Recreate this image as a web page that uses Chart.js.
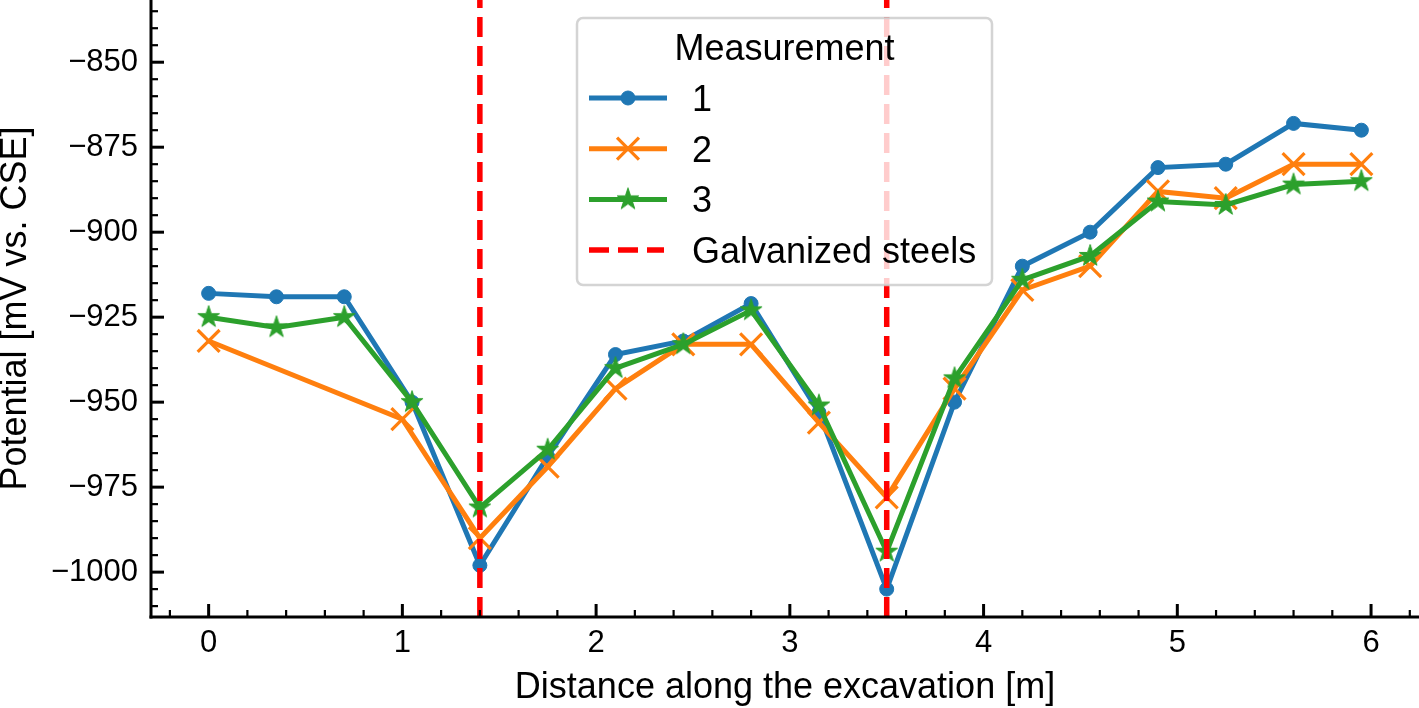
<!DOCTYPE html>
<html>
<head>
<meta charset="utf-8">
<script src="https://cdn.jsdelivr.net/npm/chart.js@4.4.1/dist/chart.umd.min.js"></script>
<style>
  html, body { margin: 0; padding: 0; background: #ffffff; overflow: hidden; }
  canvas { display: block; }
</style>
</head>
<body>
<canvas id="chart" width="1419" height="708"></canvas>
<script>
// ---------------- data ----------------
const xPositions = [0, 0.35, 0.7, 1.05, 1.4, 1.75, 2.1, 2.45, 2.8, 3.15, 3.5, 3.85, 4.2, 4.55, 4.9, 5.25, 5.6, 5.95];
const measurement1 = [-918, -919, -919, -950, -998, -966, -936, -932, -921, -953, -1005, -950, -910, -900, -881, -880, -868, -870];
const measurement2X = [0, 1.0, 1.4, 1.75, 2.1, 2.45, 2.8, 3.15, 3.5, 3.85, 4.2, 4.55, 4.9, 5.25, 5.6, 5.95];
const measurement2 = [-932, -955, -990, -969, -946, -933, -933, -956, -978, -946, -917, -910, -888, -890, -880, -880];
const measurement3 = [-925, -928, -925, -950, -981, -964, -940, -933, -923, -951, -994, -943, -914, -907, -891, -892, -886, -885];
const galvanizedX = [1.4, 3.5];

const seriesLabels = ['1', '2', '3'];
const legendTitle = 'Measurement';
const galvanizedLabel = 'Galvanized steels';
const xTitle = 'Distance along the excavation [m]';
const yTitle = 'Potential [mV vs. CSE]';

const xTickValues = [0, 1, 2, 3, 4, 5, 6];
const yTickValues = [-1000, -975, -950, -925, -900, -875, -850];
const xLimits = [-0.2975, 6.2475];
const yLimits = [-1013.2, -831.7];
const xMinorStep = 0.2;
const yMinorStep = 5;

// ---------------- styles ----------------
const FONT = "'Liberation Sans', Arial, Helvetica, sans-serif";
const BLUE = '#1f77b4', ORANGE = '#ff7f0e', GREEN = '#2ca02c', RED = '#ff0000';
Chart.defaults.font.family = FONT;
Chart.defaults.color = '#000000';

function makeStar(color, R) {
  const c = document.createElement('canvas');
  const size = Math.ceil(2 * R + 3);
  c.width = size; c.height = size;
  const g = c.getContext('2d');
  const cx = size / 2, cy = size / 2, r = R * 0.381966;
  g.beginPath();
  for (let i = 0; i < 10; i++) {
    const ang = -Math.PI / 2 + i * Math.PI / 5;
    const rad = (i % 2 === 0) ? R : r;
    const px = cx + rad * Math.cos(ang), py = cy + rad * Math.sin(ang);
    if (i === 0) g.moveTo(px, py); else g.lineTo(px, py);
  }
  g.closePath();
  g.fillStyle = color; g.fill();
  g.strokeStyle = color; g.lineWidth = 1; g.lineJoin = 'miter'; g.stroke();
  return c;
}
const starImg = makeStar(GREEN, 11.5);

function toPoints(xs, ys) { return xs.map((x, i) => ({ x: x, y: ys[i] })); }
function fmt(v) { return v < 0 ? '\u2212' + Math.abs(v) : String(v); }

const datasets = [
  { label: seriesLabels[0], data: toPoints(xPositions, measurement1), borderColor: BLUE, backgroundColor: BLUE,
    borderWidth: 5, pointStyle: 'circle', pointRadius: 7, pointHoverRadius: 7,
    pointBackgroundColor: BLUE, pointBorderColor: BLUE, pointBorderWidth: 1, order: 2 },
  { label: seriesLabels[1], data: toPoints(measurement2X, measurement2), borderColor: ORANGE, backgroundColor: ORANGE,
    borderWidth: 5, pointStyle: 'crossRot', pointRadius: 15.5, pointHoverRadius: 15.5,
    pointBackgroundColor: ORANGE, pointBorderColor: ORANGE, pointBorderWidth: 3.2, order: 1 },
  { label: seriesLabels[2], data: toPoints(xPositions, measurement3), borderColor: GREEN, backgroundColor: GREEN,
    borderWidth: 5, pointStyle: starImg, pointRadius: 11, pointHoverRadius: 11,
    pointBackgroundColor: GREEN, pointBorderColor: GREEN, pointBorderWidth: 1, order: 0 }
];

function drawLegend(chart) {
  const ctx = chart.ctx;
  const bx = 577, by = 18, bw = 415, bh = 267, br = 6;
  ctx.save();
  ctx.setLineDash([]);
  ctx.beginPath();
  ctx.moveTo(bx + br, by);
  ctx.arcTo(bx + bw, by, bx + bw, by + bh, br);
  ctx.arcTo(bx + bw, by + bh, bx, by + bh, br);
  ctx.arcTo(bx, by + bh, bx, by, br);
  ctx.arcTo(bx, by, bx + bw, by, br);
  ctx.closePath();
  ctx.fillStyle = 'rgba(255,255,255,0.8)';
  ctx.fill();
  ctx.strokeStyle = 'rgba(204,204,204,0.85)';
  ctx.lineWidth = 2.5;
  ctx.stroke();

  ctx.fillStyle = '#000';
  ctx.font = '36px ' + FONT;
  ctx.textAlign = 'center';
  ctx.textBaseline = 'alphabetic';
  ctx.fillText(legendTitle, bx + bw / 2, 60);

  const lx0 = 589, lx1 = 667, mx = 628, tx = 692, row0 = 98, rowGap = 50.7;
  const order = [0, 1, 2];
  order.forEach((di, i) => {
    const ds = chart.data.datasets[di];
    const yy = row0 + i * rowGap;
    ctx.strokeStyle = ds.borderColor;
    ctx.lineWidth = ds.borderWidth;
    ctx.lineCap = 'butt';
    ctx.beginPath(); ctx.moveTo(lx0, yy); ctx.lineTo(lx1, yy); ctx.stroke();
    ctx.fillStyle = ds.pointBackgroundColor;
    ctx.strokeStyle = ds.pointBorderColor;
    ctx.lineWidth = ds.pointBorderWidth;
    Chart.helpers.drawPoint(ctx, { pointStyle: ds.pointStyle, radius: ds.pointRadius, borderWidth: ds.pointBorderWidth, rotation: 0 }, mx, yy);
    ctx.fillStyle = '#000';
    ctx.textAlign = 'left';
    ctx.fillText(ds.label, tx, yy + 12.9);
  });
  const gy = row0 + 3 * rowGap;
  ctx.strokeStyle = RED; ctx.lineWidth = 5.5; ctx.setLineDash([20, 9]); ctx.lineCap = 'butt';
  ctx.beginPath(); ctx.moveTo(lx0, gy); ctx.lineTo(lx1 - 3, gy); ctx.stroke();
  ctx.setLineDash([]);
  ctx.fillStyle = '#000'; ctx.textAlign = 'left';
  ctx.fillText(galvanizedLabel, tx, gy + 12.9);
  ctx.restore();
}

const decorPlugin = {
  id: 'decor',
  afterDatasetsDraw(chart) {
    const { ctx, chartArea: a, scales: { x } } = chart;
    ctx.save();
    ctx.strokeStyle = RED; ctx.lineWidth = 5.5; ctx.setLineDash([20, 9]); ctx.lineCap = 'butt';
    galvanizedX.forEach(v => {
      const px = x.getPixelForValue(v);
      ctx.beginPath(); ctx.moveTo(px, a.bottom); ctx.lineTo(px, a.top); ctx.stroke();
    });
    ctx.restore();
    drawLegend(chart);
  },
  afterDraw(chart) {
    const { ctx, chartArea: a, scales: { x, y } } = chart;
    ctx.save();
    ctx.setLineDash([]);
    ctx.strokeStyle = '#000';
    // spines
    ctx.lineWidth = 3; ctx.lineCap = 'butt';
    ctx.beginPath(); ctx.moveTo(a.left, a.top); ctx.lineTo(a.left, a.bottom + 1.5); ctx.stroke();
    ctx.beginPath(); ctx.moveTo(a.left - 1.5, a.bottom); ctx.lineTo(a.right, a.bottom); ctx.stroke();
    // major ticks (inward)
    ctx.lineWidth = 3;
    xTickValues.forEach(v => {
      const px = x.getPixelForValue(v);
      ctx.beginPath(); ctx.moveTo(px, a.bottom); ctx.lineTo(px, a.bottom - 13); ctx.stroke();
    });
    yTickValues.forEach(v => {
      const py = y.getPixelForValue(v);
      ctx.beginPath(); ctx.moveTo(a.left, py); ctx.lineTo(a.left + 13, py); ctx.stroke();
    });
    // minor ticks
    ctx.lineWidth = 2.2;
    for (let k = Math.ceil(xLimits[0] / xMinorStep); k <= Math.floor(xLimits[1] / xMinorStep); k++) {
      const v = k * xMinorStep;
      if (xTickValues.some(t => Math.abs(t - v) < 1e-6)) continue;
      const px = x.getPixelForValue(v);
      ctx.beginPath(); ctx.moveTo(px, a.bottom); ctx.lineTo(px, a.bottom - 7); ctx.stroke();
    }
    for (let k = Math.ceil(yLimits[0] / yMinorStep); k <= Math.floor(yLimits[1] / yMinorStep); k++) {
      const v = k * yMinorStep;
      if (yTickValues.some(t => Math.abs(t - v) < 1e-6)) continue;
      const py = y.getPixelForValue(v);
      ctx.beginPath(); ctx.moveTo(a.left, py); ctx.lineTo(a.left + 7, py); ctx.stroke();
    }
    ctx.restore();
  }
};

new Chart(document.getElementById('chart'), {
  type: 'line',
  data: { datasets: datasets },
  plugins: [decorPlugin],
  options: {
    responsive: false,
    animation: false,
    devicePixelRatio: 1,
    events: [],
    layout: { padding: 0, autoPadding: false },
    plugins: { legend: { display: false }, tooltip: { enabled: false } },
    elements: { line: { tension: 0 } },
    scales: {
      x: {
        type: 'linear', min: xLimits[0], max: xLimits[1],
        grid: { display: false, drawTicks: false }, border: { display: false },
        afterBuildTicks: s => { s.ticks = xTickValues.map(v => ({ value: v })); },
        afterFit: s => { s.height = 91; s.paddingLeft = 0; s.paddingRight = 0; },
        ticks: { padding: 8, color: '#000', font: { family: FONT, size: 31 }, maxRotation: 0, autoSkip: false,
                 callback: v => fmt(v) },
        title: { display: true, text: xTitle, color: '#000', font: { family: FONT, size: 36 }, padding: { top: 0, bottom: -2 } }
      },
      y: {
        type: 'linear', min: yLimits[0], max: yLimits[1],
        grid: { display: false, drawTicks: false }, border: { display: false },
        afterBuildTicks: s => { s.ticks = yTickValues.map(v => ({ value: v })); },
        afterFit: s => { s.width = 151; s.paddingTop = 0; s.paddingBottom = 0; },
        ticks: { padding: 13, color: '#000', font: { family: FONT, size: 31 }, autoSkip: false,
                 callback: v => fmt(v) },
        title: { display: true, text: yTitle, color: '#000', font: { family: FONT, size: 36 }, padding: { top: -6, bottom: 0 } }
      }
    }
  }
});
</script>
</body>
</html>
